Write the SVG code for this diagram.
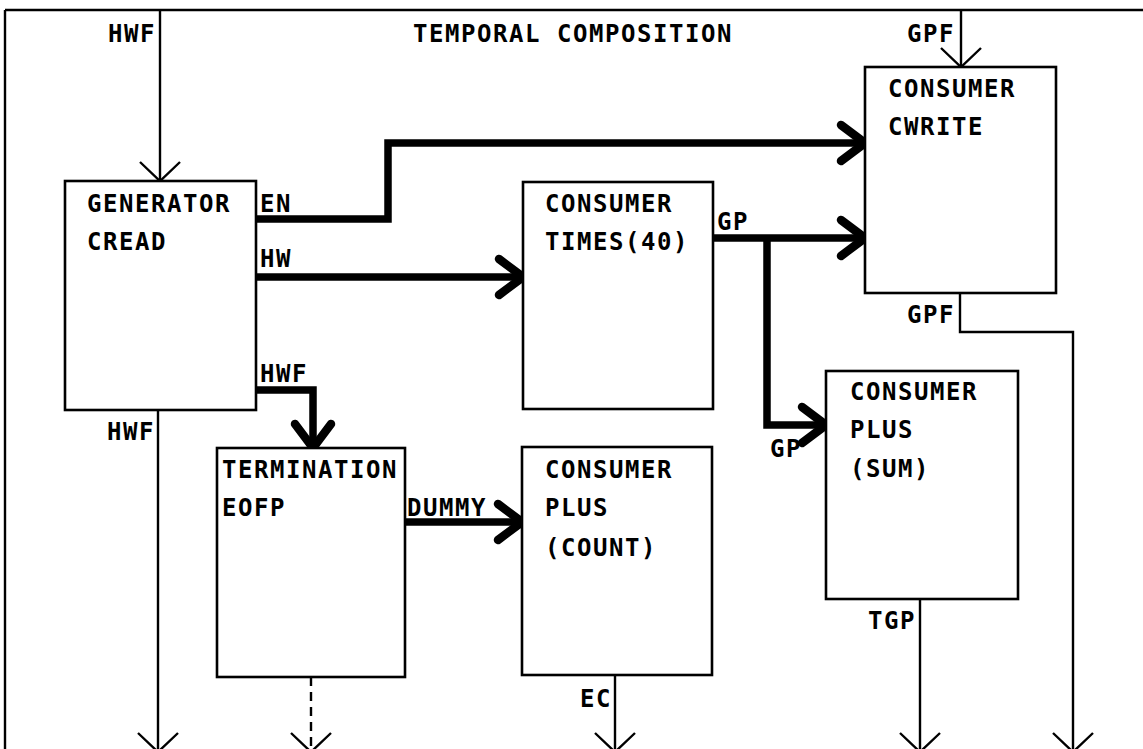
<svg xmlns="http://www.w3.org/2000/svg" width="1143" height="749" viewBox="0 0 1143 749">
<style>
.t{font-family:"DejaVu Sans Mono","Liberation Mono",monospace;font-size:24px;font-weight:bold;letter-spacing:1.55px;fill:#000}
.box{fill:#fff;stroke:#000;stroke-width:2.6}
.thin{fill:none;stroke:#000;stroke-width:2.4}
.thick{fill:none;stroke:#000;stroke-width:7.5;stroke-linejoin:miter}
.dash{fill:none;stroke:#000;stroke-width:2.4;stroke-dasharray:9 6}
</style>
<defs>
<marker id="ah" markerUnits="userSpaceOnUse" markerWidth="60" markerHeight="60" viewBox="-30 -30 60 60" refX="0" refY="0" orient="auto" overflow="visible">
<path d="M-19,-20 L0,0 L-19,20" fill="none" stroke="#000" stroke-width="2.4"/>
</marker>
<marker id="ahk" markerUnits="userSpaceOnUse" markerWidth="60" markerHeight="60" viewBox="-30 -30 60 60" refX="0" refY="0" orient="auto" overflow="visible">
<path d="M-24,-18 L0,0 L-24,18" fill="none" stroke="#000" stroke-width="8.5" stroke-linecap="round" stroke-linejoin="round"/>
</marker>
</defs>
<g id="frame">
<path class="thin" d="M5,10 H1143 M5,10 V749"/>
<text class="t" x="413" y="42">TEMPORAL COMPOSITION</text>
</g>
<g id="connectors">
<path class="thin" d="M160,10 V181" marker-end="url(#ah)"/>
<path class="thick" d="M256,219 H388 V143 H865" marker-end="url(#ahk)"/>
<path class="thick" d="M256,277 H523" marker-end="url(#ahk)"/>
<path class="thick" d="M256,390 H313 V448" marker-end="url(#ahk)"/>
<path class="thick" d="M713,238 H865" marker-end="url(#ahk)"/>
<path class="thick" d="M767,238 V425 H826" marker-end="url(#ahk)"/>
<path class="thick" d="M405,522 H522" marker-end="url(#ahk)"/>
<path class="thin" d="M961,10 V67" marker-end="url(#ah)"/>
<path class="thin" d="M960,293 V332 H1073 V752" marker-end="url(#ah)"/>
<path class="thin" d="M920,599 V752" marker-end="url(#ah)"/>
<path class="thin" d="M615,675 V752" marker-end="url(#ah)"/>
<path class="dash" d="M311,677 V752" marker-end="url(#ah)"/>
<path class="thin" d="M158,410 V752" marker-end="url(#ah)"/>
<text class="t" x="108" y="42">HWF</text>
<text class="t" x="907" y="42">GPF</text>
<text class="t" x="260" y="212">EN</text>
<text class="t" x="260" y="267">HW</text>
<text class="t" x="260" y="382">HWF</text>
<text class="t" x="717" y="230">GP</text>
<text class="t" x="907" y="323">GPF</text>
<text class="t" x="770" y="457">GP</text>
<text class="t" x="107" y="440">HWF</text>
<text class="t" x="407" y="516">DUMMY</text>
<text class="t" x="580" y="707">EC</text>
<text class="t" x="868" y="629">TGP</text>
</g>
<g id="generator">
<rect class="box" x="65" y="181" width="191" height="229"/>
<text class="t" x="87" y="212">GENERATOR</text>
<text class="t" x="87" y="250">CREAD</text>
</g>
<g id="times">
<rect class="box" x="523" y="182" width="190" height="227"/>
<text class="t" x="545" y="212">CONSUMER</text>
<text class="t" x="545" y="250">TIMES(40)</text>
</g>
<g id="cwrite">
<rect class="box" x="865" y="67" width="191" height="226"/>
<text class="t" x="888" y="97">CONSUMER</text>
<text class="t" x="888" y="135">CWRITE</text>
</g>
<g id="termination">
<rect class="box" x="217" y="448" width="188" height="229"/>
<text class="t" x="222" y="478">TERMINATION</text>
<text class="t" x="222" y="516">EOFP</text>
</g>
<g id="count">
<rect class="box" x="522" y="447" width="190" height="228"/>
<text class="t" x="545" y="478">CONSUMER</text>
<text class="t" x="545" y="516">PLUS</text>
<text class="t" x="545" y="556">(COUNT)</text>
</g>
<g id="sum">
<rect class="box" x="826" y="371" width="192" height="228"/>
<text class="t" x="850" y="400">CONSUMER</text>
<text class="t" x="850" y="438">PLUS</text>
<text class="t" x="850" y="477">(SUM)</text>
</g>
</svg>
